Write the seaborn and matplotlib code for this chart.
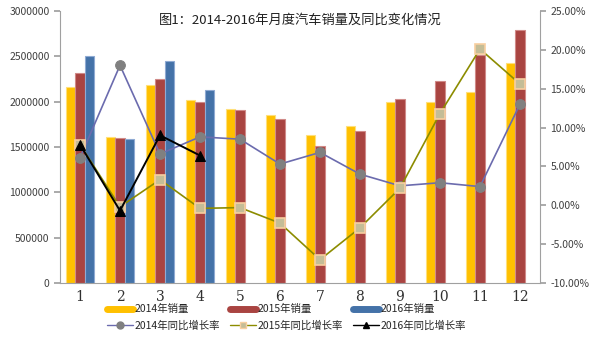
import numpy as np
import pandas as pd
import seaborn as sns
import matplotlib.pyplot as plt
from matplotlib.lines import Line2D
from matplotlib.ticker import FuncFormatter, FixedLocator

months = ["1", "2", "3", "4", "5", "6", "7", "8", "9", "10", "11", "12"]
sales_2014 = [2165000, 1606000, 2180000, 2018000, 1919000, 1856000,
              1632000, 1732000, 2000000, 2000000, 2103000, 2426000]
sales_2015 = [2320000, 1595000, 2245000, 2000000, 1908000, 1809000,
              1511000, 1676000, 2033000, 2228000, 2515000, 2790000]
sales_2016 = [2507000, 1588000, 2445000, 2128000]
growth_2014 = [6.1, 18.0, 6.6, 8.8, 8.5, 5.3, 6.8, 4.0, 2.5, 2.9, 2.4, 13.0]
growth_2015 = [7.8, -0.2, 3.3, -0.4, -0.3, -2.3, -7.0, -2.9, 2.2, 11.8, 20.1, 15.6]
growth_2016 = [7.8, -0.7, 9.0, 6.4]

years = ["2014年销量", "2015年销量", "2016年销量"]
bar_colors = ["#FFC000", "#A94441", "#4472A8"]
edge_colors = ["#FFE07A", "#D08A88", "#8FAAD3"]

sns.set_theme(style="white")
plt.rcParams["font.family"] = ["Noto Sans CJK SC", "DejaVu Sans"]

rows = []
for yname, vals in zip(years, [sales_2014, sales_2015, sales_2016]):
    for i, m in enumerate(months):
        v = vals[i] if i < len(vals) else np.nan
        rows.append({"month": m, "year": yname, "sales": v})
df = pd.DataFrame(rows)

fig = plt.figure(figsize=(5.97, 3.38), dpi=100)
ax = fig.add_axes([0.1005, 0.1627, 0.804, 0.805])

sns.barplot(data=df, x="month", y="sales", hue="year", hue_order=years,
            order=months, palette=bar_colors, width=0.68, ax=ax,
            legend=False, saturation=1, linewidth=0.8)
for cont, ec in zip(ax.containers, edge_colors):
    for p in cont:
        p.set_edgecolor(ec)

ax.set_xlim(-0.5, 11.5)
ax.set_ylim(0, 3000000)
ax.set_yticks(np.arange(0, 3000001, 500000))
ax.yaxis.set_major_formatter(FuncFormatter(lambda v, p: f"{int(v)}"))
ax.set_xlabel("")
ax.set_ylabel("")
ax.xaxis.set_minor_locator(FixedLocator(np.arange(-0.5, 12, 1)))
ax.tick_params(axis="x", which="major", length=0, labelsize=10, pad=5)
ax.tick_params(axis="x", which="minor", length=5, color="#A0A0A0", direction="out")
ax.tick_params(axis="y", length=4, color="#A0A0A0", direction="out",
               labelsize=7.5, colors="#404040")
ax.tick_params(axis="y", colors="#A0A0A0", labelcolor="#404040")
for lbl in ax.get_xticklabels():
    lbl.set_family(["DejaVu Serif"])
    lbl.set_color("#303030")
for s in ["top", "right"]:
    ax.spines[s].set_visible(False)
for s in ["left", "bottom"]:
    ax.spines[s].set_color("#A0A0A0")
    ax.spines[s].set_linewidth(0.8)

ax2 = ax.twinx()
x_all = np.arange(12)
sns.lineplot(x=x_all, y=growth_2014, ax=ax2, color="#6B6BAE", lw=1.2,
             marker="o", markersize=7, markerfacecolor="#808080",
             markeredgecolor="#808080")
sns.lineplot(x=x_all, y=growth_2015, ax=ax2, color="#8C8C00", lw=1.2,
             marker="s", markersize=7, markerfacecolor="#C4BD97",
             markeredgecolor="#F8CFA0", markeredgewidth=1.2)
sns.lineplot(x=x_all[:len(growth_2016)], y=growth_2016, ax=ax2, color="#000000",
             lw=1.4, marker="^", markersize=7, markerfacecolor="#000000",
             markeredgecolor="#000000")
ax2.set_xlim(-0.5, 11.5)
ax2.set_ylim(-10, 25)
ax2.set_yticks(np.arange(-10, 26, 5))
ax2.yaxis.set_major_formatter(FuncFormatter(lambda v, p: f"{v:.2f}%"))
ax2.tick_params(axis="y", length=4, color="#A0A0A0", direction="out",
                labelsize=7.5, labelcolor="#404040")
for s in ["top", "left", "bottom"]:
    ax2.spines[s].set_visible(False)
ax2.spines["right"].set_color("#A0A0A0")
ax2.spines["right"].set_linewidth(0.8)
ax2.set_ylabel("")

ax.text(0.5, 0.967, "图1：2014-2016年月度汽车销量及同比变化情况",
        transform=ax.transAxes, ha="center", va="center", fontsize=9.5,
        color="#202020")

handles = [
    Line2D([], [], color=bar_colors[0], lw=5),
    Line2D([], [], color="#6B6BAE", lw=1, marker="o", markersize=5,
           markerfacecolor="#808080", markeredgecolor="#808080"),
    Line2D([], [], color=bar_colors[1], lw=5),
    Line2D([], [], color="#8C8C00", lw=1, marker="s", markersize=5,
           markerfacecolor="#C4BD97", markeredgecolor="#F8CFA0"),
    Line2D([], [], color=bar_colors[2], lw=5),
    Line2D([], [], color="#000000", lw=1, marker="^", markersize=5),
]
labels = ["2014年销量", "2014年同比增长率", "2015年销量", "2015年同比增长率",
          "2016年销量", "2016年同比增长率"]
fig.legend(handles, labels, ncol=3, loc="center", bbox_to_anchor=(0.48, 0.061),
           frameon=False, fontsize=7.5, handlelength=2.5, handletextpad=0.2,
           columnspacing=0.9, labelspacing=0.6)

fig.savefig("out.png", dpi=100)
